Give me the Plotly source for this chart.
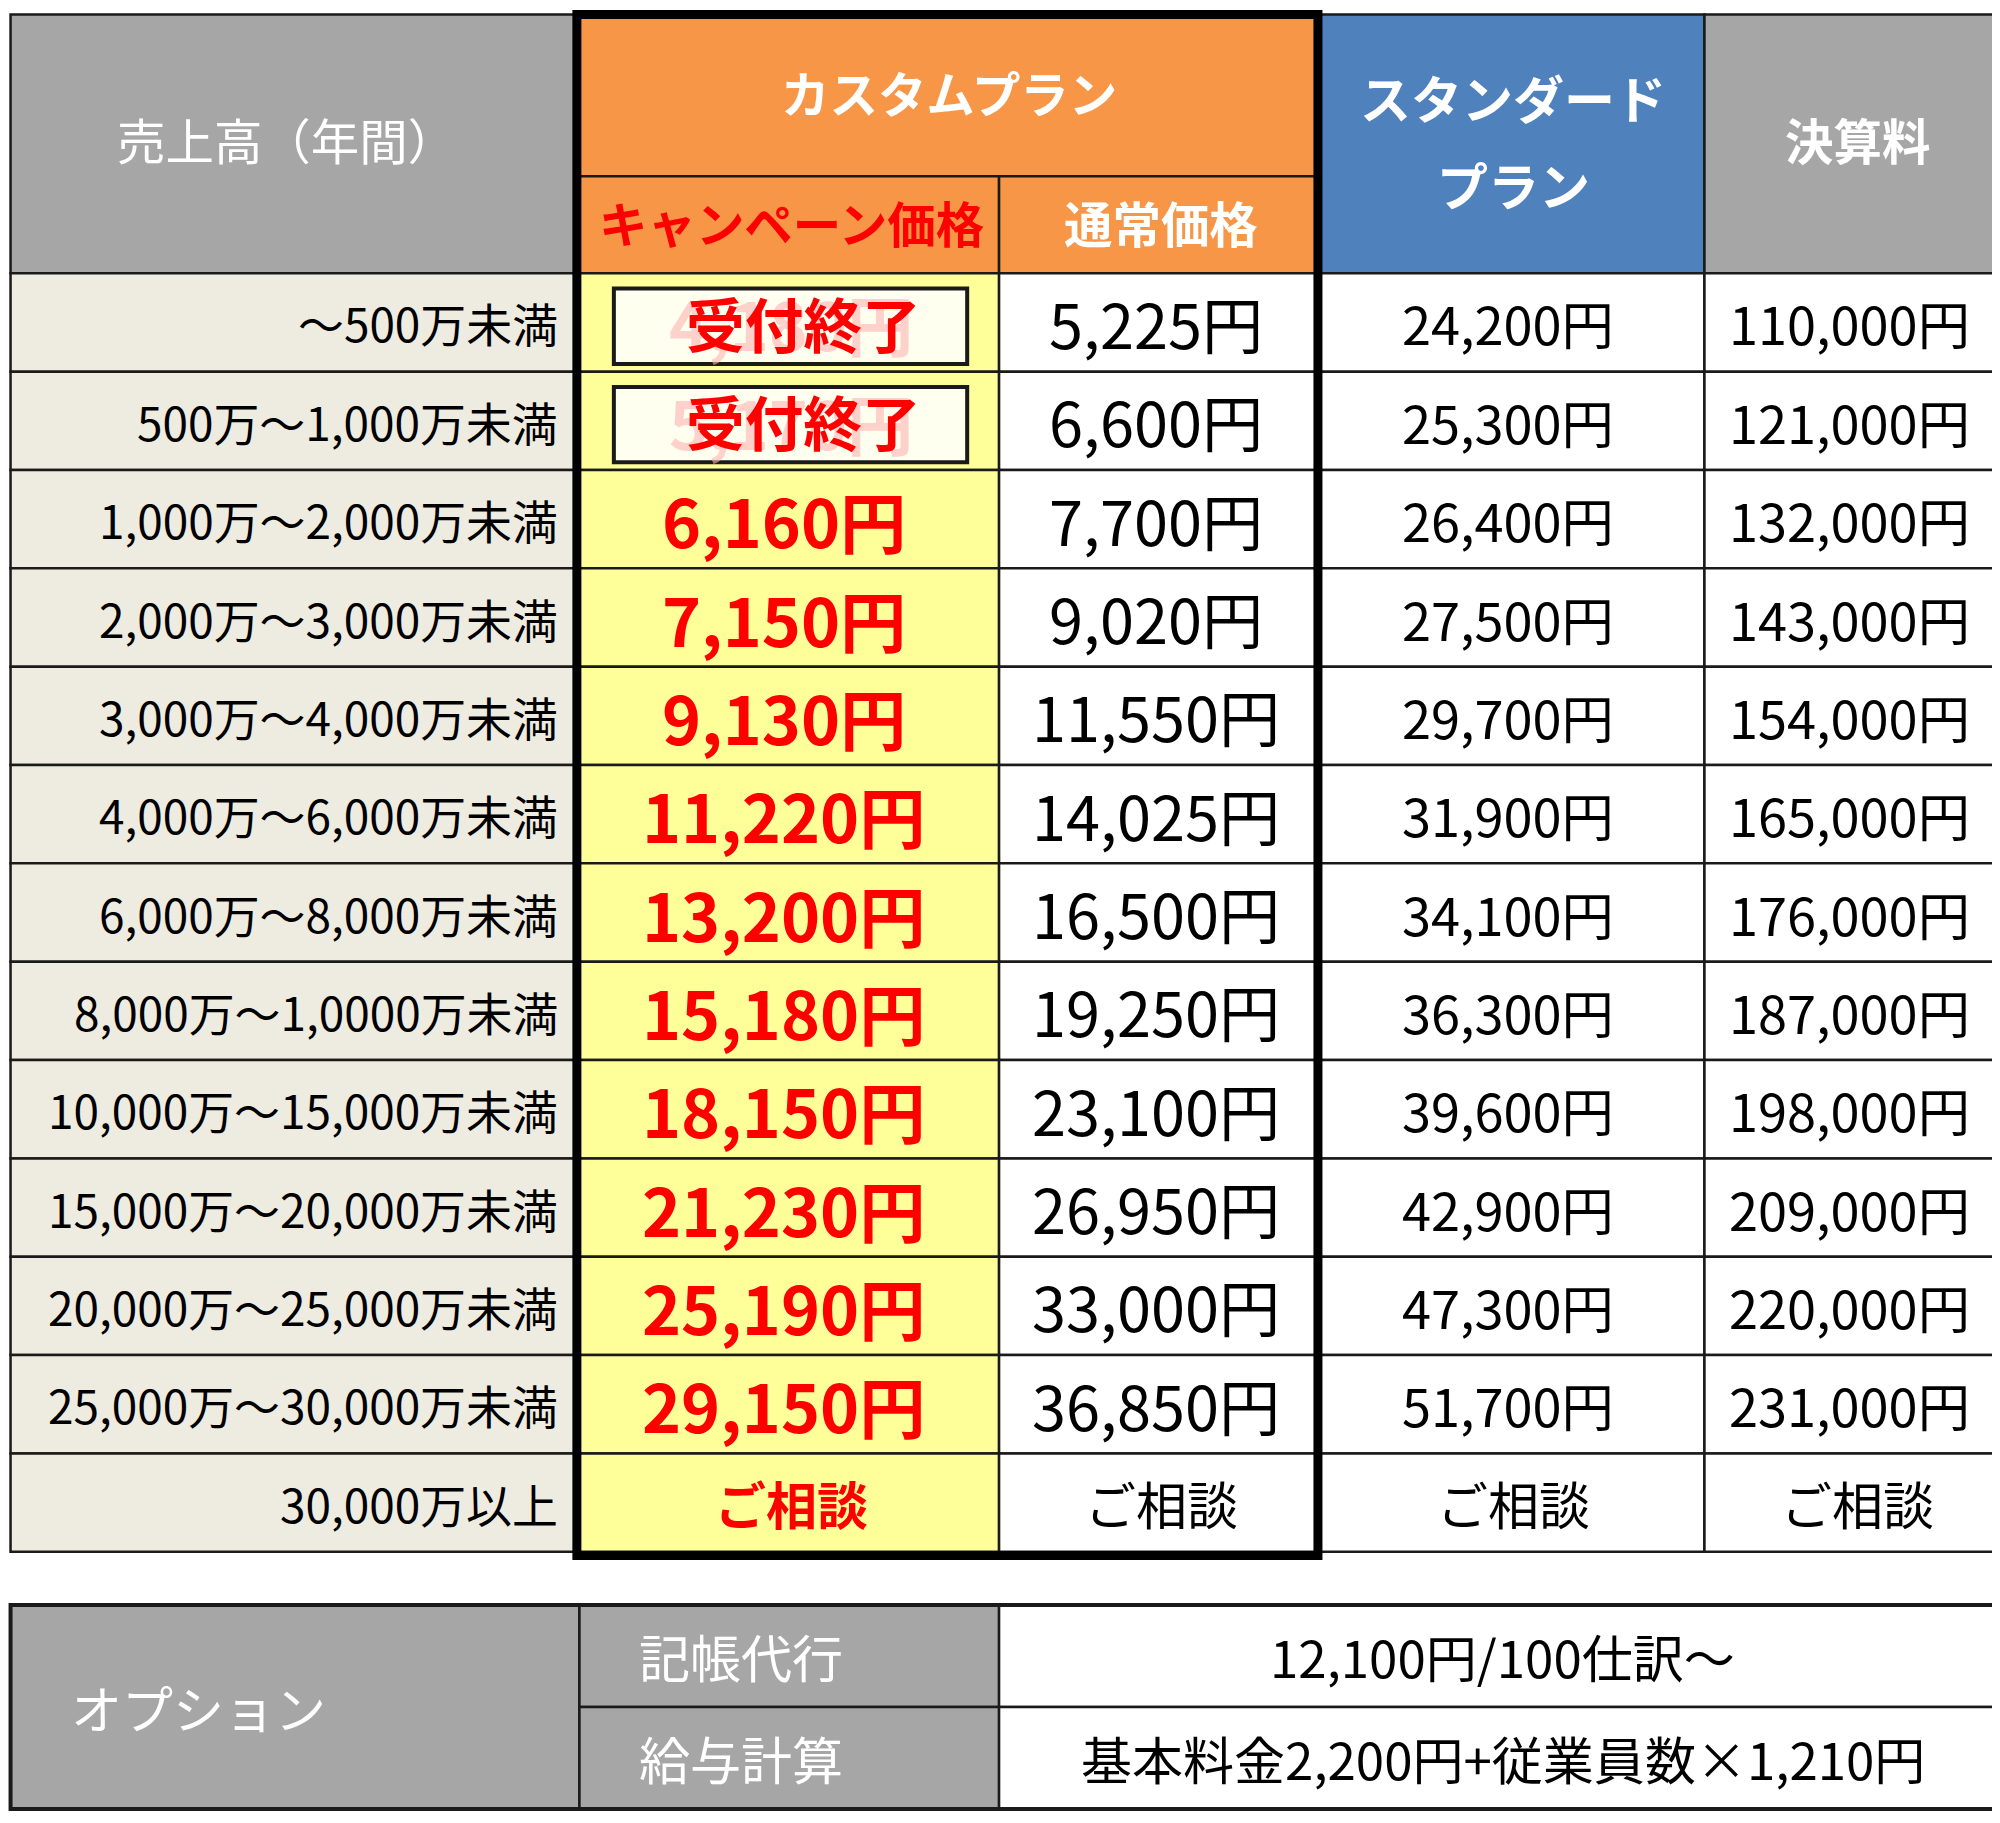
import plotly.graph_objects as go

# data
ranges = ['～500万未満', '500万～1,000万未満', '1,000万～2,000万未満', '2,000万～3,000万未満',
          '3,000万～4,000万未満', '4,000万～6,000万未満', '6,000万～8,000万未満',
          '8,000万～1,0000万未満', '10,000万～15,000万未満', '15,000万～20,000万未満',
          '20,000万～25,000万未満', '25,000万～30,000万未満', '30,000万以上']
campaign = ['4,180円', '5,170円', '6,160円', '7,150円', '9,130円', '11,220円', '13,200円',
            '15,180円', '18,150円', '21,230円', '25,190円', '29,150円', 'ご相談']
normal = ['5,225円', '6,600円', '7,700円', '9,020円', '11,550円', '14,025円', '16,500円',
          '19,250円', '23,100円', '26,950円', '33,000円', '36,850円', 'ご相談']
standard = ['24,200円', '25,300円', '26,400円', '27,500円', '29,700円', '31,900円', '34,100円',
            '36,300円', '39,600円', '42,900円', '47,300円', '51,700円', 'ご相談']
settlement = ['110,000円', '121,000円', '132,000円', '143,000円', '154,000円', '165,000円',
              '176,000円', '187,000円', '198,000円', '209,000円', '220,000円', '231,000円', 'ご相談']
closed_rows = [0, 1]
closed_label = '受付終了'
options = ['記帳代行', '給与計算']
option_prices = ['12,100円/100仕訳～', '基本料金2,200円+従業員数×1,210円']

S = 2000 / 1568
FONT = 'Noto Sans CJK JP'
GRAY, ORANGE, BLUE = '#a6a6a6', '#f79646', '#4f81bd'
BEIGE, YELLOW = '#eeece1', '#ffff99'

cols = [2, 446, 777, 1027, 1330, 1566]
top, mid, body = 5, 132, 208
rh = 77.1
rows = [body + i * rh for i in range(len(ranges) + 1)]

shapes, ann = [], []


def rect(x0, y0, x1, y1, fill, lw=2.5, lc='#1a1a1a'):
    shapes.append(dict(type='rect', xref='x', yref='y', x0=x0 * S, x1=x1 * S, y0=y0 * S, y1=y1 * S,
                       fillcolor=fill, line=dict(color=lc, width=lw), layer='below'))


def text(x, y, s, size, color='black', bold=False, anchor='center', opacity=1):
    if bold:
        s = '<b>' + s + '</b>'
    ann.append(dict(x=x * S, y=y * S, xref='x', yref='y', text=s, showarrow=False,
                    xanchor=anchor, yanchor='middle', opacity=opacity,
                    font=dict(family=FONT, size=size * S, color=color)))


# header
rect(cols[0], top, cols[1], body, GRAY)
rect(cols[1], top, cols[3], mid, ORANGE)
rect(cols[1], mid, cols[2], body, ORANGE)
rect(cols[2], mid, cols[3], body, ORANGE)
rect(cols[3], top, cols[4], body, BLUE)
rect(cols[4], top, cols[5], body, GRAY)
text(218, 103, '売上高（年間）', 38, 'white')
text(738, 66, 'カスタムプラン', 38, 'white', True)
text(614, 168, 'キャンペーン価格', 38, 'red', True)
text(904, 168, '通常価格', 38, 'white', True)
text(1180, 70, 'スタンダード', 40, 'white', True)
text(1180, 138, 'プラン', 40, 'white', True)
text(1450, 103, '決算料', 38, 'white', True)

for i, r in enumerate(ranges):
    y0, y1 = rows[i], rows[i + 1]
    yc = (y0 + y1) / 2
    rect(cols[0], y0, cols[1], y1, BEIGE)
    rect(cols[1], y0, cols[2], y1, YELLOW)
    rect(cols[2], y0, cols[3], y1, 'white')
    rect(cols[3], y0, cols[4], y1, 'white')
    rect(cols[4], y0, cols[5], y1, 'white')
    text(433, yc, r, 36, anchor='right')
    if i in closed_rows:
        rect(475, y0 + 12, 752, y1 - 6, '#fffff0', lw=4)
        text(614, yc, campaign[i], 52, '#ffb3b3', True, opacity=0.6)
        text(624, yc, closed_label, 46, 'red', True)
    elif i == len(ranges) - 1:
        text(614, yc, campaign[i], 40, 'red', True)
    else:
        text(608, yc, campaign[i], 52, 'red', True)
    last = i == len(ranges) - 1
    text(900 if not last else 904, yc, normal[i], 40 if last else 48)
    text(1176 if not last else 1180, yc, standard[i], 40 if last else 41)
    text(1444 if not last else 1450, yc, settlement[i], 40 if last else 41)

# thick border around custom plan
shapes.append(dict(type='rect', xref='x', yref='y', x0=cols[1] * S, x1=cols[3] * S,
                   y0=top * S, y1=(rows[-1] + 3) * S, line=dict(color='black', width=9)))

# option table
ot, om, ob = 1252, 1332, 1412
oc = [2, 448, 777, 1566]
rect(oc[0], ot, oc[1], ob, GRAY)
rect(oc[1], ot, oc[2], om, GRAY)
rect(oc[1], om, oc[2], ob, GRAY)
rect(oc[2], ot, oc[3], om, 'white')
rect(oc[2], om, oc[3], ob, 'white')
shapes.append(dict(type='rect', xref='x', yref='y', x0=oc[0] * S, x1=oc[3] * S,
                   y0=ot * S, y1=ob * S, line=dict(color='#1a1a1a', width=4)))
text(48, (ot + ob) / 2, 'オプション', 40, 'white', anchor='left')
for j, (o, p) in enumerate(zip(options, option_prices)):
    yc = [(ot + om) / 2, (om + ob) / 2][j]
    text(493, yc, o, 40, 'white', anchor='left')
    text(1172, yc, p, 40)

fig = go.Figure()
fig.update_layout(width=2000, height=1823, margin=dict(l=0, r=0, t=0, b=0),
                  plot_bgcolor='white', paper_bgcolor='white',
                  shapes=shapes, annotations=ann, showlegend=False,
                  xaxis=dict(range=[0, 2000], visible=False, fixedrange=True),
                  yaxis=dict(range=[1823, 0], visible=False, fixedrange=True))
fig.write_html('out.html')
